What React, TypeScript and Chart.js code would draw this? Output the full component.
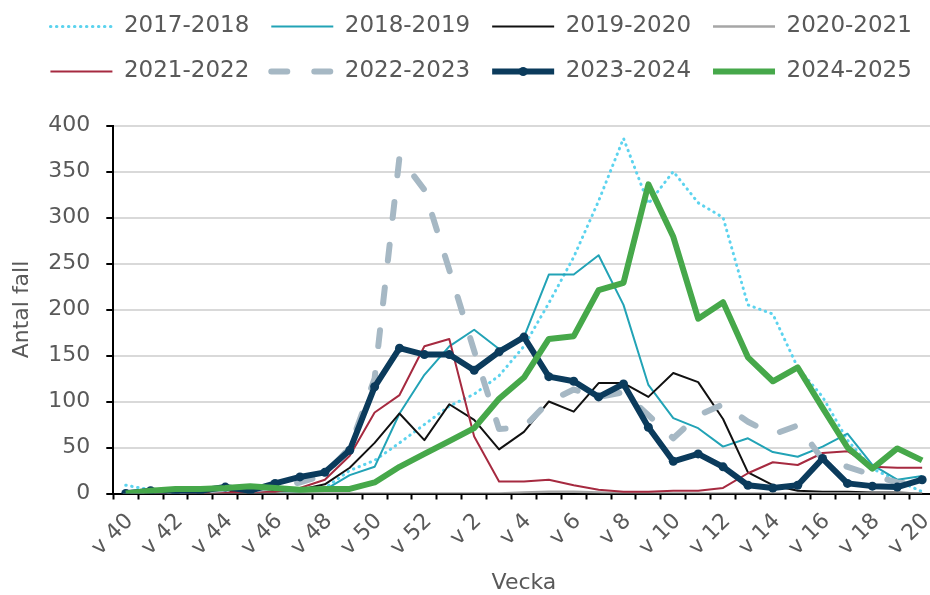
import React, { useEffect, useRef } from 'react';
import { Chart, registerables } from 'chart.js';

Chart.register(...registerables);

// ---- Data ----
const weekLabels = [
  'v 40', 'v 41', 'v 42', 'v 43', 'v 44', 'v 45', 'v 46', 'v 47', 'v 48', 'v 49', 'v 50', 'v 51', 'v 52',
  'v 1', 'v 2', 'v 3', 'v 4', 'v 5', 'v 6', 'v 7', 'v 8', 'v 9', 'v 10', 'v 11', 'v 12', 'v 13', 'v 14',
  'v 15', 'v 16', 'v 17', 'v 18', 'v 19', 'v 20',
];

const seasonLabels = ['2017-2018', '2018-2019', '2019-2020', '2020-2021', '2021-2022', '2022-2023', '2023-2024', '2024-2025'];

const cases2017_2018 = [9, 4, 3, 3, 3, 3, 3, 4, 6, 25, 36, 55, 75, 95, 108, 128, 160, 207, 257, 318, 386, 315, 350, 316, 300, 205, 195, 137, 105, 58, 27, 14, 2];
const cases2018_2019 = [0, 1, 1, 2, 2, 3, 2, 2, 4, 20, 29, 87, 129, 160, 178, 157, 170, 238, 238, 259, 205, 118, 82, 71, 51, 60, 45, 40, 51, 65, 31, 15, 19];
const cases2019_2020 = [0, 1, 1, 1, 2, 2, 3, 4, 10, 28, 55, 87, 58, 97, 80, 48, 67, 100, 89, 120, 120, 105, 131, 121, 81, 23, 9, 3, 2, 2, 1, 1, 0];
const cases2020_2021 = [0, 0, 0, 0, 0, 0, 0, 0, 0, 0, 0, 0, 0, 0, 0, 0, 1, 2, 2, 1, 0, 0, 0, 0, 0, 0, 0, 0, 0, 0, 0, 0, 0];
const cases2021_2022 = [0, 0, 1, 1, 1, 2, 2, 6, 15, 41, 88, 107, 160, 168, 62, 13, 13, 15, 9, 4, 2, 2, 3, 3, 6, 22, 34, 31, 44, 46, 29, 28, 28];
const cases2022_2023 = [1, 2, 3, 3, 5, 4, 7, 12, 20, 50, 125, 366, 330, 243, 155, 70, 72, 100, 113, 105, 110, 85, 60, 85, 97, 78, 64, 74, 37, 29, 20, 12, 10];
const cases2023_2024 = [0, 3, 2, 3, 7, 3, 11, 18, 23, 47, 116, 158, 151, 151, 134, 154, 170, 127, 122, 105, 119, 72, 35, 43, 29, 9, 6, 9, 38, 11, 8, 7, 15];
const cases2024_2025 = [0, 3, 5, 5, 6, 8, 6, 4, 5, 5, 12, 29, 43, 57, 71, 103, 126, 168, 171, 221, 229, 336, 279, 190, 208, 148, 122, 137, 93, 50, 27, 49, 36];

const yTicks = [0, 50, 100, 150, 200, 250, 300, 350, 400];

export default function App() {
  const ref = useRef<HTMLCanvasElement>(null);

  useEffect(() => {
    if (!ref.current) return;
    const FONT = 'DejaVu Sans';
    const GREY = '#595959';

    const base = { pointRadius: 0, tension: 0, fill: false, borderJoinStyle: 'round' as const };
    const datasets: any[] = [
      { ...base, label: seasonLabels[0], data: cases2017_2018, borderColor: '#5cd3ee', backgroundColor: '#5cd3ee', borderWidth: 3, borderDash: [0.5, 5.5], borderCapStyle: 'round', order: 8 },
      { ...base, label: seasonLabels[1], data: cases2018_2019, borderColor: '#22a3b6', backgroundColor: '#22a3b6', borderWidth: 2, order: 7 },
      { ...base, label: seasonLabels[2], data: cases2019_2020, borderColor: '#111111', backgroundColor: '#111111', borderWidth: 2, order: 6 },
      { ...base, label: seasonLabels[3], data: cases2020_2021, borderColor: '#a6a6a6', backgroundColor: '#a6a6a6', borderWidth: 2.5, order: 5 },
      { ...base, label: seasonLabels[4], data: cases2021_2022, borderColor: '#a62a40', backgroundColor: '#a62a40', borderWidth: 2, order: 4 },
      { ...base, label: seasonLabels[5], data: cases2022_2023, borderColor: '#a6b8c4', backgroundColor: '#a6b8c4', borderWidth: 6, borderDash: [16, 27], borderCapStyle: 'round', order: 3 },
      { ...base, label: seasonLabels[6], data: cases2023_2024, borderColor: '#0b3b5c', backgroundColor: '#0b3b5c', borderWidth: 6, pointRadius: 4.5, pointBackgroundColor: '#0b3b5c', pointBorderColor: '#0b3b5c', pointBorderWidth: 0, order: 2 },
      { ...base, label: seasonLabels[7], data: cases2024_2025, borderColor: '#46a84a', backgroundColor: '#46a84a', borderWidth: 6, order: 1 },
    ];

    const LEGEND_BOX = 62;
    const LEGEND_FONT = 23;

    const legendSpacer = {
      id: 'legendSpacer',
      beforeLayout(chart: any) {
        const lg = chart.legend;
        if (lg && !lg.__patched) {
          const orig = lg.fit;
          lg.fit = function () {
            orig.call(this);
            this.height += 32.5;
          };
          lg.__patched = true;
        }
      },
    };

    const legendMarker = {
      id: 'legendMarker',
      afterDraw(chart: any) {
        const lg = chart.legend;
        if (!lg || !lg.legendHitBoxes) return;
        const idx = 6;
        const hb = lg.legendHitBoxes[idx];
        if (!hb) return;
        const ds = chart.data.datasets[idx];
        const ctx = chart.ctx;
        ctx.save();
        ctx.fillStyle = ds.borderColor;
        ctx.beginPath();
        ctx.arc(hb.left + LEGEND_BOX / 2, hb.top + LEGEND_FONT / 2, 4.5, 0, Math.PI * 2);
        ctx.fill();
        ctx.restore();
      },
    };

    const chart = new Chart(ref.current, {
      type: 'line',
      data: { labels: weekLabels, datasets },
      options: {
        responsive: false,
        animation: false,
        devicePixelRatio: 1,
        layout: { padding: { left: 24, right: 11.7, top: 0, bottom: 0 } },
        plugins: {
          tooltip: { enabled: false },
          legend: {
            position: 'top',
            align: 'center',
            labels: {
              color: GREY,
              font: { family: FONT, size: LEGEND_FONT },
              usePointStyle: true,
              pointStyleWidth: LEGEND_BOX,
              boxWidth: LEGEND_BOX,
              padding: 22,
              generateLabels: (ch: any) =>
                ch.data.datasets.map((ds: any, i: number) => ({
                  text: ds.label,
                  fillStyle: ds.borderColor,
                  strokeStyle: ds.borderColor,
                  lineWidth: ds.borderWidth,
                  lineDash: ds.borderDash || [],
                  lineCap: ds.borderCapStyle || 'butt',
                  lineJoin: 'round',
                  pointStyle: 'line',
                  fontColor: GREY,
                  hidden: false,
                  datasetIndex: i,
                })),
            },
          },
        },
        scales: {
          x: {
            type: 'category',
            offset: true,
            grid: {
              display: true,
              drawOnChartArea: false,
              drawTicks: true,
              tickLength: 6,
              tickColor: '#000000',
              tickWidth: 2,
              offset: true,
            },
            border: { display: true, color: '#000000', width: 2 },
            ticks: {
              autoSkip: false,
              maxRotation: 45,
              minRotation: 45,
              padding: 9,
              labelOffset: 4,
              color: GREY,
              font: { family: FONT, size: 22 },
              callback: function (this: any, value: any, index: number) {
                return index % 2 === 0 ? this.getLabelForValue(value) : '';
              },
            },
            title: {
              display: true,
              text: 'Vecka',
              color: GREY,
              font: { family: FONT, size: 22, lineHeight: 1 },
              padding: { top: 0, bottom: 1 },
            },
            afterFit: (scale: any) => {
              scale.height = 101.5;
            },
          },
          y: {
            type: 'linear',
            min: 0,
            max: 400,
            grid: {
              color: '#d9d9d9',
              lineWidth: 2,
              drawTicks: true,
              tickLength: 7,
              tickColor: '#000000',
              tickWidth: 2,
            },
            border: { display: true, color: '#000000', width: 2 },
            afterBuildTicks: (scale: any) => {
              scale.ticks = yTicks.map((v) => ({ value: v }));
            },
            ticks: {
              padding: 16,
              color: GREY,
              font: { family: FONT, size: 22 },
            },
            title: {
              display: true,
              text: 'Antal fall',
              color: GREY,
              font: { family: FONT, size: 22, lineHeight: 1 },
              padding: { top: -13, bottom: 0 },
            },
            afterFit: (scale: any) => {
              scale.width = 89.3;
            },
          },
        },
      } as any,
      plugins: [legendSpacer, legendMarker],
    });

    return () => chart.destroy();
  }, []);

  return (
    <div style={{ position: 'fixed', left: 0, top: 0, width: 930, height: 595, overflow: 'hidden', background: '#ffffff' }}>
      <canvas
        ref={ref}
        width={950}
        height={602}
        style={{ position: 'absolute', left: 0, top: -7, width: 950, height: 602 }}
      />
    </div>
  );
}
